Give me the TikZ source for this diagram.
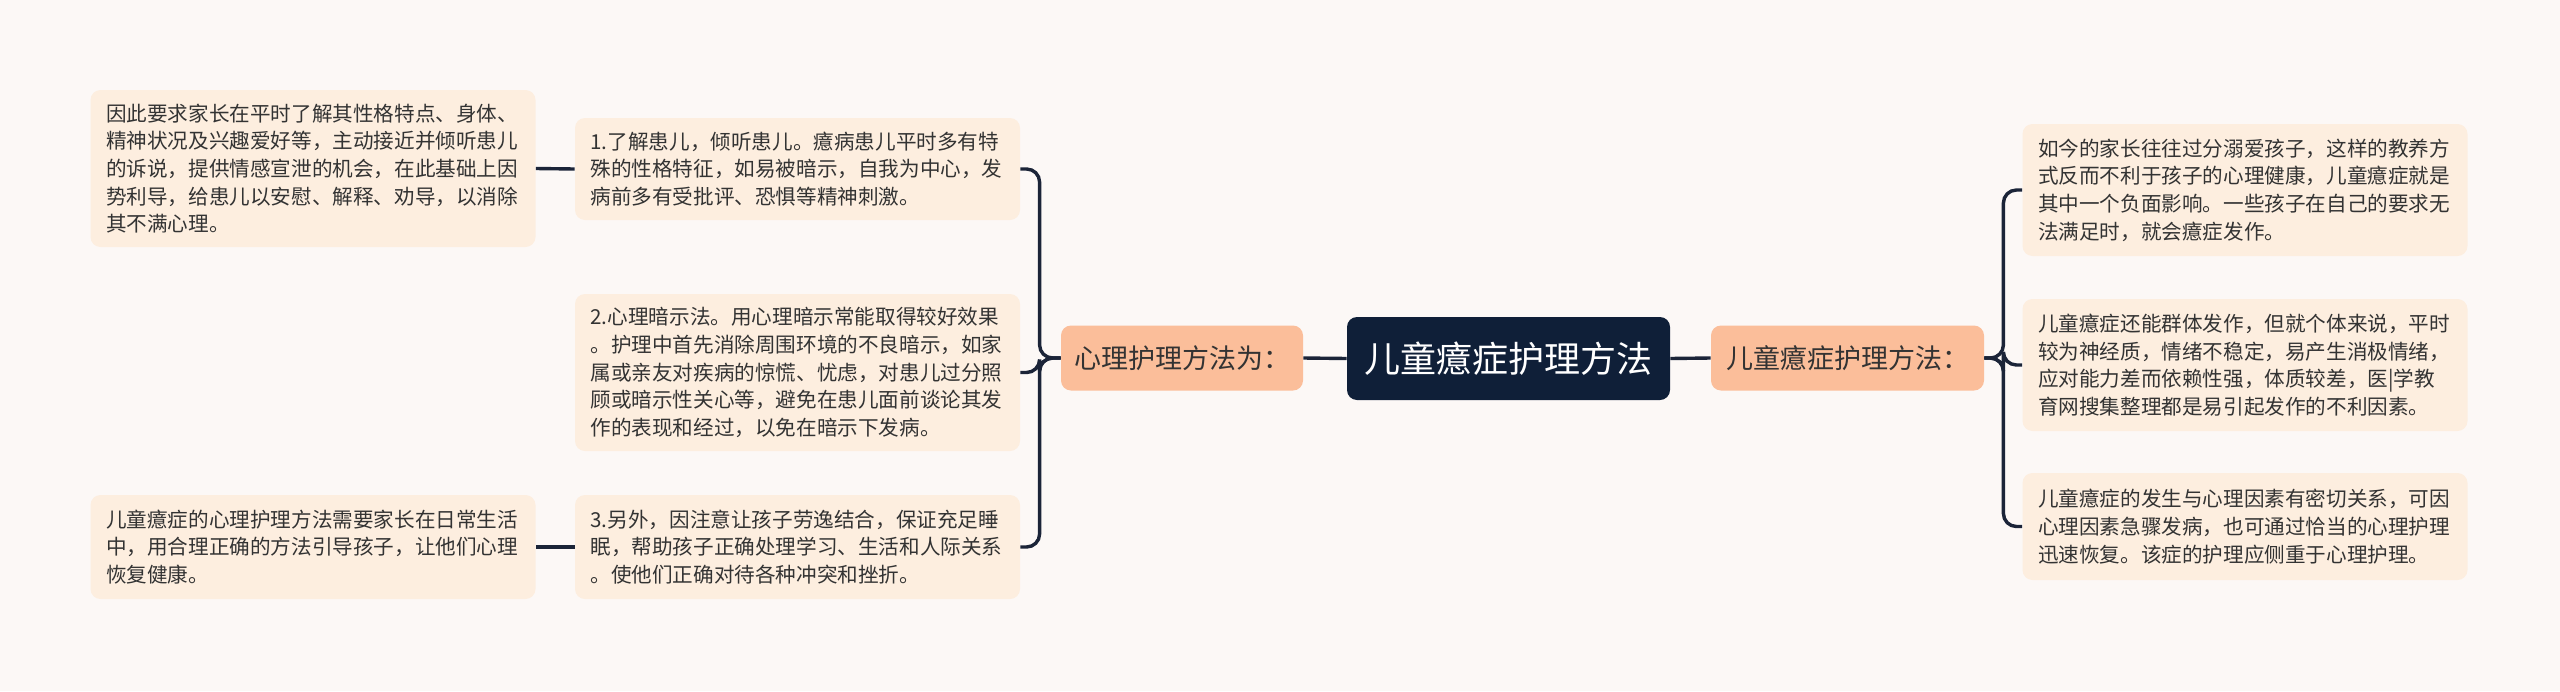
\documentclass[tikz,border=0pt]{standalone}
\usepackage{fontspec}
\setmainfont{Noto Sans CJK SC}
\definecolor{bg}{HTML}{FCF8F6}
\definecolor{leaf}{HTML}{FDEEDF}
\definecolor{mid}{HTML}{FBBE9A}
\definecolor{root}{HTML}{0F1F38}
\definecolor{txt}{HTML}{333333}
\definecolor{line}{HTML}{1B2438}
\tikzset{
  leafbox/.style={fill=leaf, rounded corners=5pt, text width=207pt, inner xsep=7.75pt, inner ysep=0pt, align=left, font=\fontsize{10.3}{13.85}\selectfont, text=txt, anchor=center},
  midbox/.style={fill=mid, rounded corners=5pt, inner sep=0pt, font=\fontsize{13.5}{16}\selectfont, text=txt, minimum height=32.5pt, anchor=center},
  rootbox/.style={fill=root, rounded corners=5pt, inner sep=0pt, font=\fontsize{18}{22}\selectfont, text=white, minimum width=161.5pt, minimum height=41.5pt, anchor=center},
  conn/.style={draw=line, line width=1.7pt, rounded corners=6.5pt}
}
\begin{document}
\begin{tikzpicture}[x=0.5pt,y=-0.5pt]
\fill[bg] (0,0) rectangle (2560,691);
\useasboundingbox (0,0) rectangle (2560,691);

\node[rootbox] (C) at (1508.5,358.5) {儿童癔症护理方法};
\node[midbox, minimum width=121pt] (L) at (1182,358) {心理护理方法为：};
\node[midbox, minimum width=136.5pt] (R) at (1847.5,358) {儿童癔症护理方法：};

\node[leafbox, minimum height=51pt] (B1) at (797.5,169) {1.了解患儿，倾听患儿。癔病患儿平时多有特\\殊的性格特征，如易被暗示，自我为中心，发\\病前多有受批评、恐惧等精神刺激。};
\node[leafbox, minimum height=78.5pt] (B2) at (797.5,372.5) {2.心理暗示法。用心理暗示常能取得较好效果\\。护理中首先消除周围环境的不良暗示，如家\\属或亲友对疾病的惊慌、忧虑，对患儿过分照\\顾或暗示性关心等，避免在患儿面前谈论其发\\作的表现和经过，以免在暗示下发病。};
\node[leafbox, minimum height=52pt] (B3) at (797.5,547) {3.另外，因注意让孩子劳逸结合，保证充足睡\\眠，帮助孩子正确处理学习、生活和人际关系\\。使他们正确对待各种冲突和挫折。};

\node[leafbox, minimum height=78.5pt] (A1) at (313,168.5) {因此要求家长在平时了解其性格特点、身体、\\精神状况及兴趣爱好等，主动接近并倾听患儿\\的诉说，提供情感宣泄的机会，在此基础上因\\势利导，给患儿以安慰、解释、劝导，以消除\\其不满心理。};
\node[leafbox, minimum height=52pt] (A3) at (313,547) {儿童癔症的心理护理方法需要家长在日常生活\\中，用合理正确的方法引导孩子，让他们心理\\恢复健康。};

\node[leafbox, minimum height=66pt] (R1) at (2245,190) {如今的家长往往过分溺爱孩子，这样的教养方\\式反而不利于孩子的心理健康，儿童癔症就是\\其中一个负面影响。一些孩子在自己的要求无\\法满足时，就会癔症发作。};
\node[leafbox, minimum height=66pt] (R2) at (2245,365) {儿童癔症还能群体发作，但就个体来说，平时\\较为神经质，情绪不稳定，易产生消极情绪，\\应对能力差而依赖性强，体质较差，医|学教\\育网搜集整理都是易引起发作的不利因素。};
\node[leafbox, minimum height=53.5pt] (R3) at (2245,526.5) {儿童癔症的发生与心理因素有密切关系，可因\\心理因素急骤发病，也可通过恰当的心理护理\\迅速恢复。该症的护理应侧重于心理护理。};

\draw[conn] (C.west) -- (L.east);
\draw[conn] (C.east) -- (R.west);
\draw[conn] (L.west) -- ++(-21,0) |- (B1.east);
\draw[conn] (L.west) -- ++(-21,0) |- (B2.east);
\draw[conn] (L.west) -- ++(-21,0) |- (B3.east);
\draw[conn] (B1.west) -- (A1.east);
\draw[conn] (B3.west) -- (A3.east);
\draw[conn] (R.east) -- ++(19,0) |- (R1.west);
\draw[conn] (R.east) -- ++(19,0) |- (R2.west);
\draw[conn] (R.east) -- ++(19,0) |- (R3.west);
\end{tikzpicture}
\end{document}
